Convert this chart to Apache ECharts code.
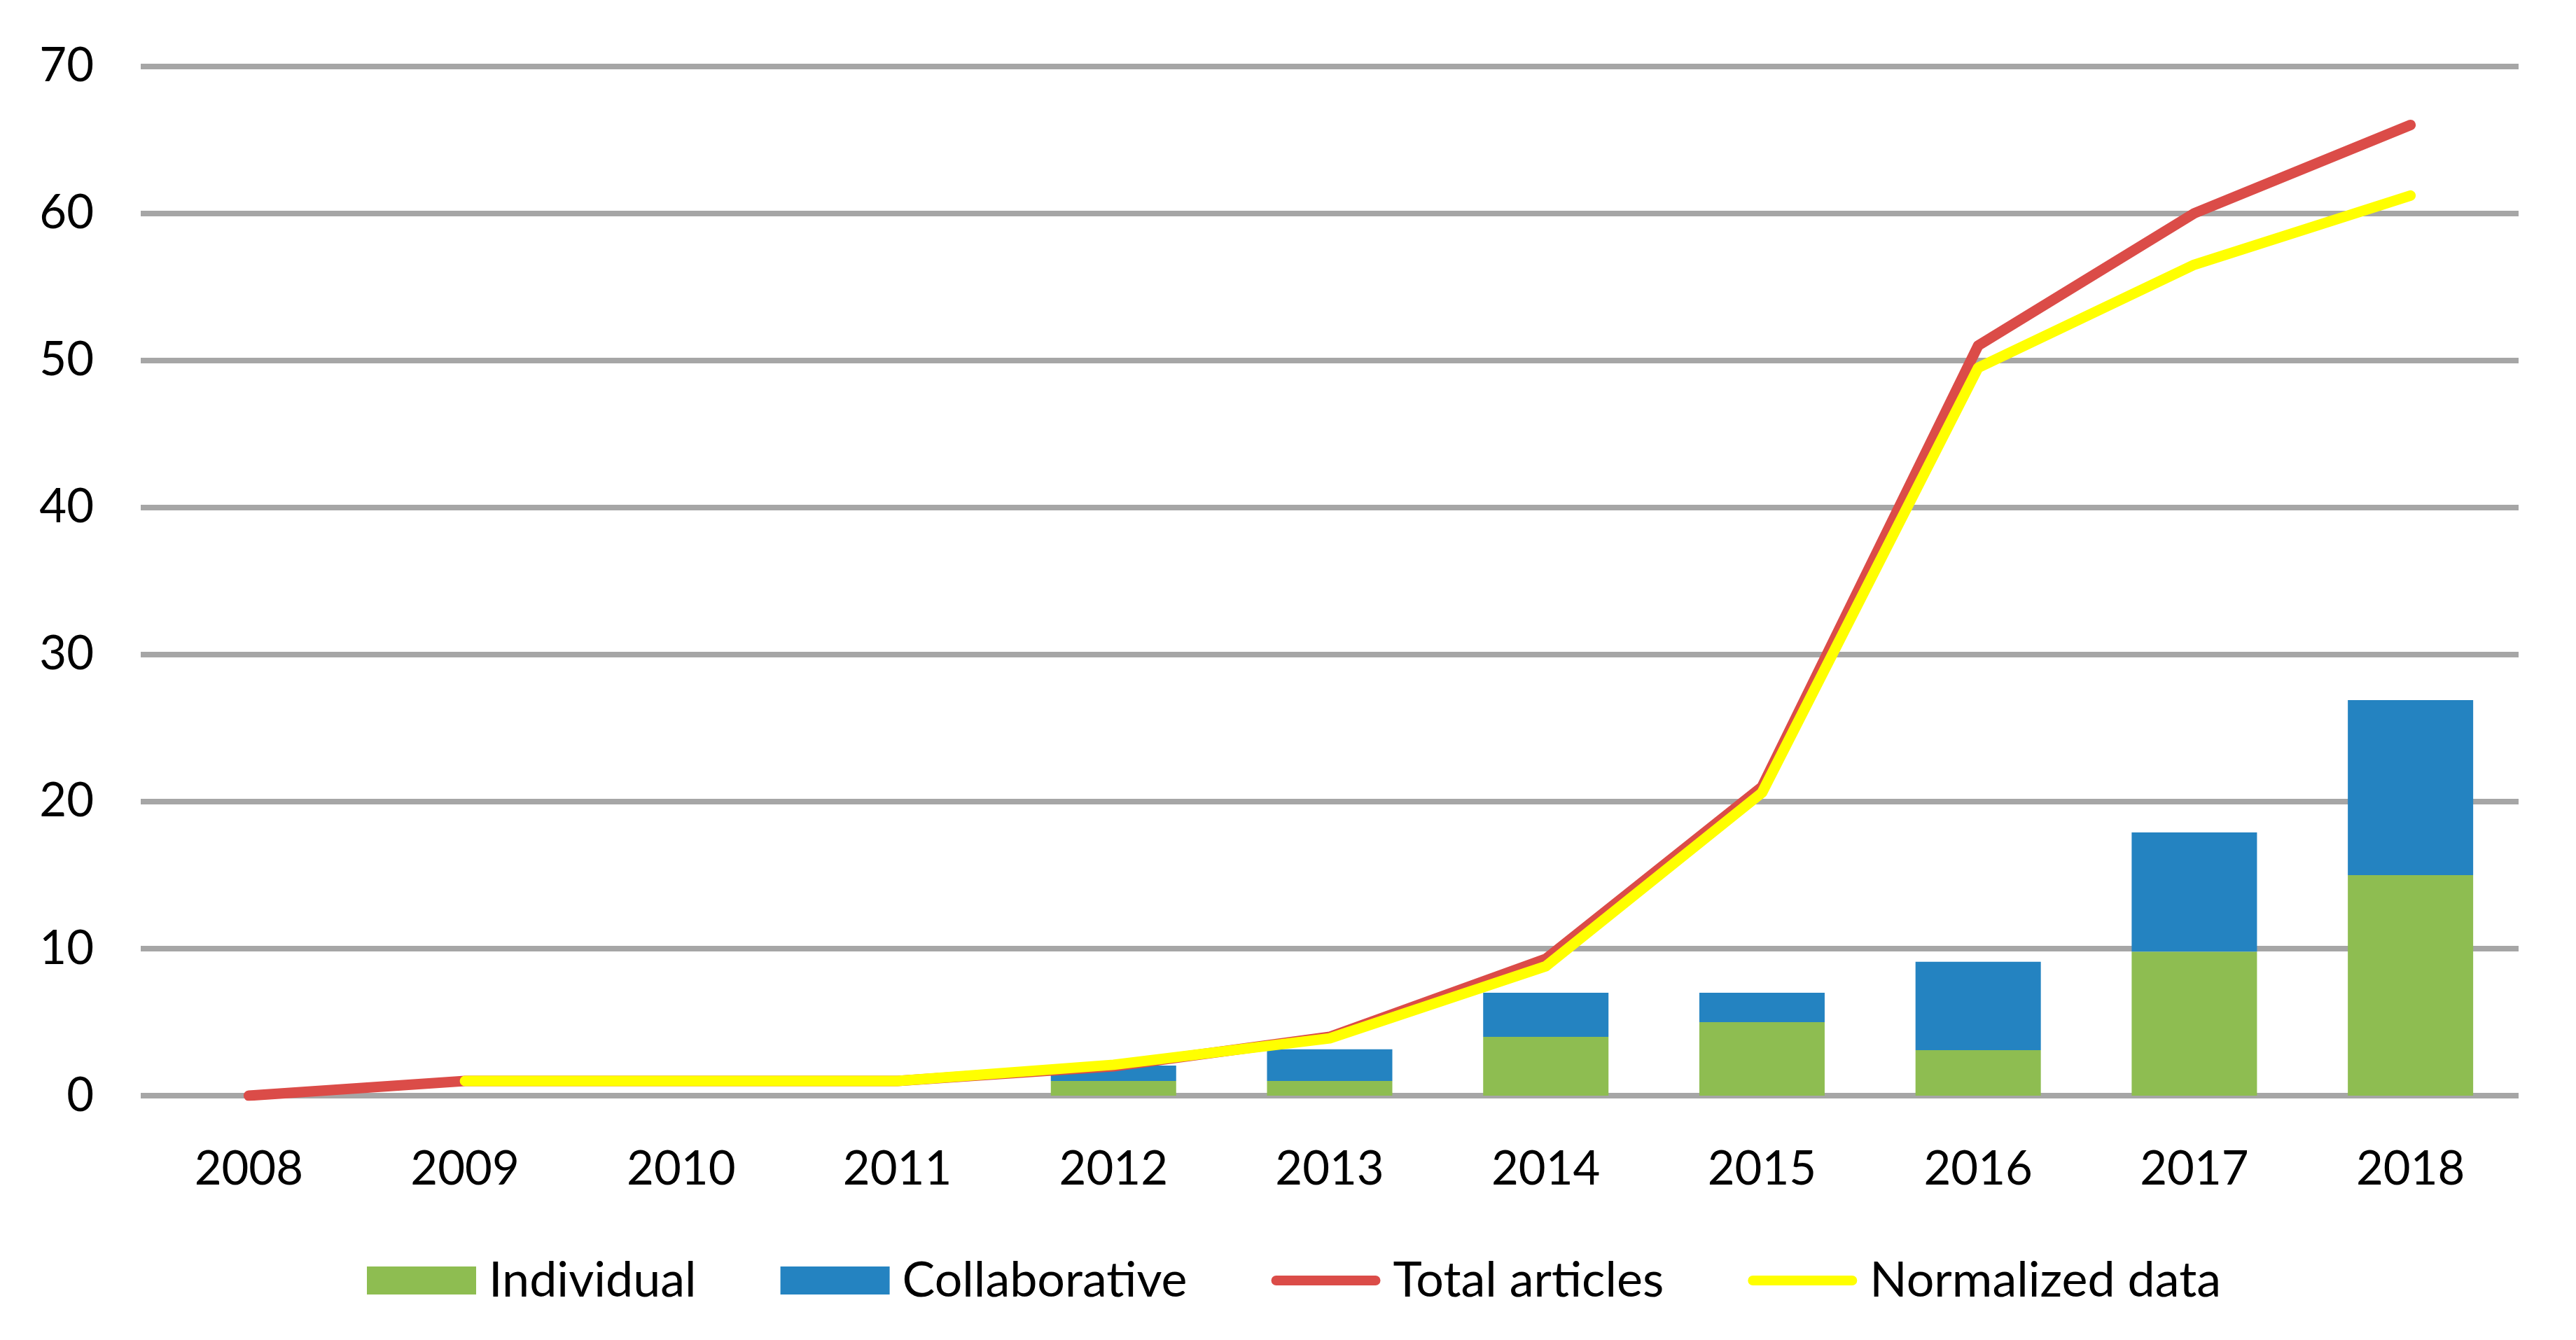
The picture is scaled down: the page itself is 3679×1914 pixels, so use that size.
<!DOCTYPE html>
<html>
<head>
<meta charset="utf-8">
<script src="https://cdn.jsdelivr.net/npm/echarts@6/dist/echarts.min.js"></script>
<style>
html,body{margin:0;padding:0;background:#fff;}
#chart{width:3679px;height:1914px;}
</style>
</head>
<body>
<div id="chart"></div>
<script>
const categories = ['2008','2009','2010','2011','2012','2013','2014','2015','2016','2017','2018'];
const individual = [0, 0, 0, 0, 1, 1, 4, 5, 3.1, 9.8, 15];
const collaborative = [0, 0, 0, 0, 1.05, 2.15, 3, 2, 6, 8.1, 11.9];
const totalArticles = [0, 1, 1, 1, 2, 4, 9.3, 21, 51, 60, 66];
const normalizedData = ['-', 1, 1, 1, 2.1, 3.9, 8.8, 20.6, 49.5, 56.5, 61.2];
const yTicks = {min: 0, max: 70, interval: 10};

const FONT = 'Lato';
const LINE_ICON = 'path://M7.5,0 H158.5 A7.5,7.5 0 0 1 158.5,15 H7.5 A7.5,7.5 0 0 1 7.5,0 Z';
const chart = echarts.init(document.getElementById('chart'), null, {renderer: 'canvas'});
chart.setOption({
  animation: false,
  backgroundColor: '#ffffff',
  grid: {left: 201, right: 82, top: 94.5, bottom: 349, containLabel: false},
  legend: {
    left: 524,
    top: 1794,
    padding: 0,
    itemWidth: 156,
    itemHeight: 40,
    itemGap: 120,
    symbolKeepAspect: true,
    textStyle: {fontFamily: FONT, fontSize: 70, color: '#000', padding: [0, 0, 0, 13]},
    data: [
      {name: 'Individual', icon: 'rect'},
      {name: 'Collaborative', icon: 'rect'},
      {name: 'Total articles', icon: LINE_ICON, itemStyle: {color: '#DB4C48', borderWidth: 0}},
      {name: 'Normalized data', icon: LINE_ICON, itemStyle: {color: '#FFFF00', borderWidth: 0}}
    ]
  },
  xAxis: {
    type: 'category',
    data: categories,
    axisLine: {show: false},
    axisTick: {show: false},
    axisLabel: {fontFamily: FONT, fontSize: 67, color: '#000', margin: 72}
  },
  yAxis: {
    type: 'value',
    min: yTicks.min, max: yTicks.max, interval: yTicks.interval,
    axisLine: {show: false},
    axisTick: {show: false},
    axisLabel: {fontFamily: FONT, fontSize: 67, color: '#000', margin: 67},
    splitLine: {show: true, lineStyle: {color: '#A6A6A6', width: 8}}
  },
  series: [
    {name: 'Individual', type: 'bar', stack: 'a', data: individual, barWidth: 179,
      itemStyle: {color: '#8EBD51'}, z: 2},
    {name: 'Collaborative', type: 'bar', stack: 'a', data: collaborative, barWidth: 179,
      itemStyle: {color: '#2483C1'}, z: 2},
    {name: 'Total articles', type: 'line', data: totalArticles, symbol: 'none',
      lineStyle: {color: '#DB4C48', width: 15, cap: 'round', join: 'round'},
      itemStyle: {color: '#DB4C48'}, z: 3},
    {name: 'Normalized data', type: 'line', data: normalizedData, symbol: 'none',
      lineStyle: {color: '#FFFF00', width: 15, cap: 'round', join: 'round'},
      itemStyle: {color: '#FFFF00'}, z: 4}
  ]
});
</script>
</body>
</html>
